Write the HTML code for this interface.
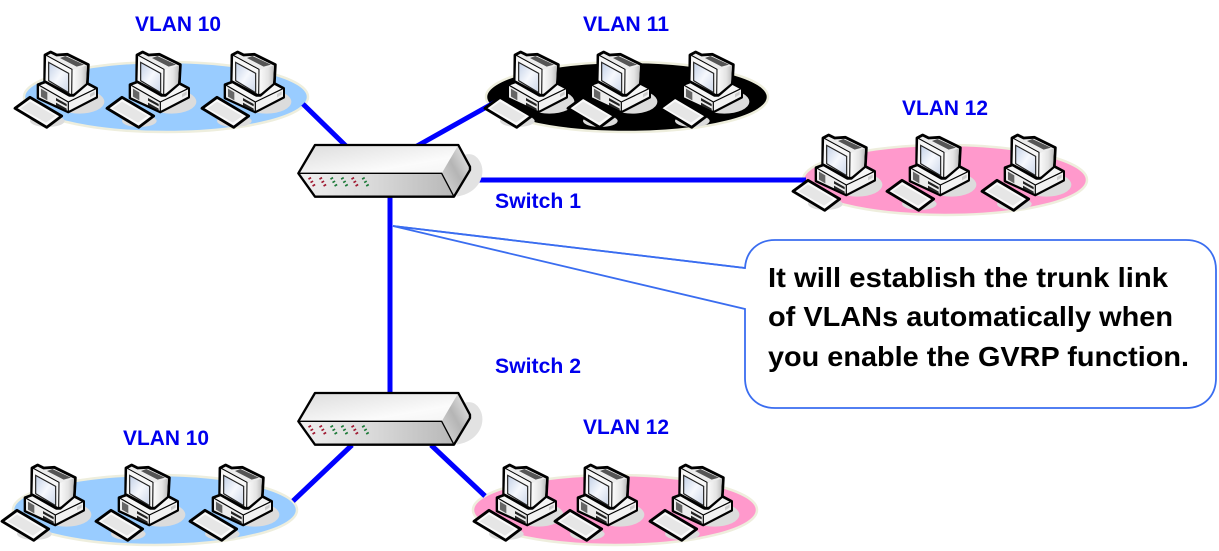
<!DOCTYPE html>
<html>
<head>
<meta charset="utf-8">
<style>
html,body{margin:0;padding:0;background:#fff;width:1219px;height:551px;overflow:hidden}
svg{display:block}
text{font-family:"Liberation Sans",sans-serif;font-weight:bold}
.l{fill:#0000ee;font-size:21px}
.c{fill:#000;font-size:28px}
</style>
</head>
<body>
<svg width="1219" height="551" viewBox="0 0 1219 551" xmlns="http://www.w3.org/2000/svg">
<defs>
<linearGradient id="scr" x1="0" y1="0" x2="1" y2="1"><stop offset="0" stop-color="#c2d0e6"/><stop offset=".5" stop-color="#f6f8fd"/><stop offset="1" stop-color="#ccd6e8"/></linearGradient>
<linearGradient id="side" x1="0" y1="0" x2="1" y2="0"><stop offset="0" stop-color="#fafafa"/><stop offset=".6" stop-color="#e4e4e4"/><stop offset="1" stop-color="#bdbdbd"/></linearGradient>
<linearGradient id="top" x1="0" y1="0" x2="1" y2="1"><stop offset="0" stop-color="#dcdcdc"/><stop offset=".7" stop-color="#fbfbfb"/><stop offset="1" stop-color="#f4f4f4"/></linearGradient>
<linearGradient id="front" x1="0" y1="0" x2="1" y2="0"><stop offset="0" stop-color="#f0f0f0"/><stop offset=".5" stop-color="#d8d8d8"/><stop offset="1" stop-color="#b8b8b8"/></linearGradient>
<linearGradient id="end" x1="1" y1="0" x2="0" y2="1"><stop offset="0" stop-color="#f0f0f0"/><stop offset=".5" stop-color="#b5b5b5"/><stop offset="1" stop-color="#dcdcdc"/></linearGradient>

<g id="pc">
<g transform="translate(10 40) scale(.3333)">
<ellipse cx="208" cy="185" rx="75" ry="36" fill="#dcdcdc"/>
<ellipse cx="112" cy="243" rx="52" ry="18" fill="#dcdcdc"/>
<!-- base -->
<path d="M84 134 L175 100 L260 145 L260 172 L175 216 L84 174 Z" fill="#f6f6f6" stroke="#000" stroke-width="8" stroke-linejoin="round"/>
<path d="M87 136 L175 186 L175 213 L87 172 Z" fill="#ececec"/>
<path d="M175 186 L258 147 L258 170 L175 213 Z" fill="#f2f2f2"/>
<path d="M84 134 L175 186 L260 145 M175 186 L175 216" fill="none" stroke="#000" stroke-width="3.5" stroke-linejoin="round"/>
<path d="M93 146 L112 157 L112 181 L93 170 Z" fill="#666"/>
<path d="M138 174 L170 192 L170 199 L138 182 Z M138 188 L170 206 L170 211 L138 196 Z" fill="#222"/>
<path d="M240 162 L254 154 L254 164 L240 172 Z" fill="#ccc"/>
<!-- monitor -->
<path d="M105 45 L122 36 L140 45 L172 43 L235 74 L232 130 L190 166 L178 166 L104 124 Z" fill="#ececec" stroke="#000" stroke-width="8.5" stroke-linejoin="round"/>
<path d="M188 90 L231 76 L228 130 L190 162 Z" fill="url(#side)"/>
<path d="M166 48 L222 74 L200 80 L150 54 Z" fill="#555"/>
<path d="M107 45 L186 88 L185 165 L105 122 Z" fill="#f7f7f7" stroke="#000" stroke-width="3" stroke-linejoin="round"/>
<path d="M116 67 L176 100 L176 158 L116 122 Z" fill="url(#scr)" stroke="#222" stroke-width="3.5"/>
<!-- keyboard -->
<path d="M15 205 L60 172 L155 228 L110 262 Z" fill="#fafafa" stroke="#000" stroke-width="8.5" stroke-linejoin="round"/>
<path d="M32 205 L60 185 L136 228 L108 248 Z" fill="#e6e6e6"/>
</g>
</g>

<g id="sw">
<g transform="translate(290 130) scale(.3333)">
<path d="M500 200 C570 190 590 130 570 95 C555 65 525 70 515 80 Z" fill="#e2e2e2"/>
<path d="M75 45 L505 45 L455 130 L25 130 Z" fill="url(#top)"/>
<path d="M505 45 L540 115 L492 200 L455 130 Z" fill="url(#end)"/>
<path d="M25 130 L455 130 L492 200 L75 200 Z" fill="url(#front)"/>
<path d="M25 130 L75 45 L505 45 L540 110 L540 120 L492 200 L75 200 Z" fill="none" stroke="#000" stroke-width="7" stroke-linejoin="round"/>
<path d="M25 130 L455 130 L492 200" fill="none" stroke="#000" stroke-width="4" stroke-linejoin="round"/>
<g stroke-width="9" stroke-dasharray="5 7" fill="none">
<path d="M58 143 L74 170" stroke="#a01830"/>
<path d="M91 143 L107 170" stroke="#a01830"/>
<path d="M124 143 L140 170" stroke="#1c7a38"/>
<path d="M156 143 L172 170" stroke="#1c7a38"/>
<path d="M187 143 L203 170" stroke="#a01830"/>
<path d="M219 143 L235 170" stroke="#1c7a38"/>
</g>
</g>
</g>
</defs>

<!-- ellipses -->
<ellipse cx="166" cy="97" rx="142" ry="35" fill="#99ccff" stroke="#eeeedd" stroke-width="2.5"/>
<ellipse cx="627" cy="97" rx="141" ry="35" fill="#000" stroke="#eeeedd" stroke-width="2.5"/>
<ellipse cx="945" cy="180" rx="142" ry="35" fill="#ff99cc" stroke="#eeeedd" stroke-width="2.5"/>
<ellipse cx="155" cy="510" rx="142" ry="35" fill="#99ccff" stroke="#eeeedd" stroke-width="2.5"/>
<ellipse cx="615" cy="510" rx="142" ry="35" fill="#ff99cc" stroke="#eeeedd" stroke-width="2.5"/>

<!-- links -->
<g stroke="#0000ff" stroke-width="5" fill="none">
<line x1="303" y1="104" x2="346" y2="146"/>
<line x1="417" y1="146" x2="499" y2="100"/>
<line x1="470" y1="180" x2="806" y2="180"/>
<line x1="390" y1="190" x2="390" y2="396"/>
<line x1="352" y1="445" x2="293" y2="501"/>
<line x1="431" y1="445" x2="485" y2="496"/>
</g>

<!-- computers -->
<use href="#pc"/>
<use href="#pc" x="92"/>
<use href="#pc" x="187"/>
<use href="#pc" x="470"/>
<use href="#pc" x="553"/>
<use href="#pc" x="645"/>
<use href="#pc" x="778" y="83"/>
<use href="#pc" x="872" y="83"/>
<use href="#pc" x="967" y="83"/>
<use href="#pc" x="-13" y="413"/>
<use href="#pc" x="81" y="413"/>
<use href="#pc" x="175" y="413"/>
<use href="#pc" x="459" y="413"/>
<use href="#pc" x="540" y="413"/>
<use href="#pc" x="635" y="413"/>

<!-- switches -->
<use href="#sw"/>
<use href="#sw" y="248"/>

<!-- callout -->
<path d="M745 268 C746 251 758 240 775 240 L1186 240 C1204 240 1216 252 1216 270 L1216 378 C1216 396 1204 408 1186 408 L775 408 C757 408 745 396 745 378 L745 309 L393 226 Z" fill="#fff" stroke="#3a6df0" stroke-width="1.8" stroke-linejoin="miter"/>
<path d="M393 226 L745 268" stroke="#3a6df0" stroke-width="1.8" fill="none"/>

<!-- labels -->
<text class="l" x="135" y="31" textLength="86" lengthAdjust="spacingAndGlyphs">VLAN 10</text>
<text class="l" x="583" y="31" textLength="86" lengthAdjust="spacingAndGlyphs">VLAN 11</text>
<text class="l" x="902" y="115" textLength="86" lengthAdjust="spacingAndGlyphs">VLAN 12</text>
<text class="l" x="123" y="445" textLength="86" lengthAdjust="spacingAndGlyphs">VLAN 10</text>
<text class="l" x="583" y="434" textLength="86" lengthAdjust="spacingAndGlyphs">VLAN 12</text>
<text class="l" x="495" y="208" textLength="86" lengthAdjust="spacingAndGlyphs">Switch 1</text>
<text class="l" x="495" y="373" textLength="86" lengthAdjust="spacingAndGlyphs">Switch 2</text>

<text class="c" x="768" y="287" textLength="400" lengthAdjust="spacingAndGlyphs">It will establish the trunk link</text>
<text class="c" x="768" y="326" textLength="405" lengthAdjust="spacingAndGlyphs">of VLANs automatically when</text>
<text class="c" x="768" y="366" textLength="421" lengthAdjust="spacingAndGlyphs">you enable the GVRP function.</text>
</svg>
</body>
</html>
